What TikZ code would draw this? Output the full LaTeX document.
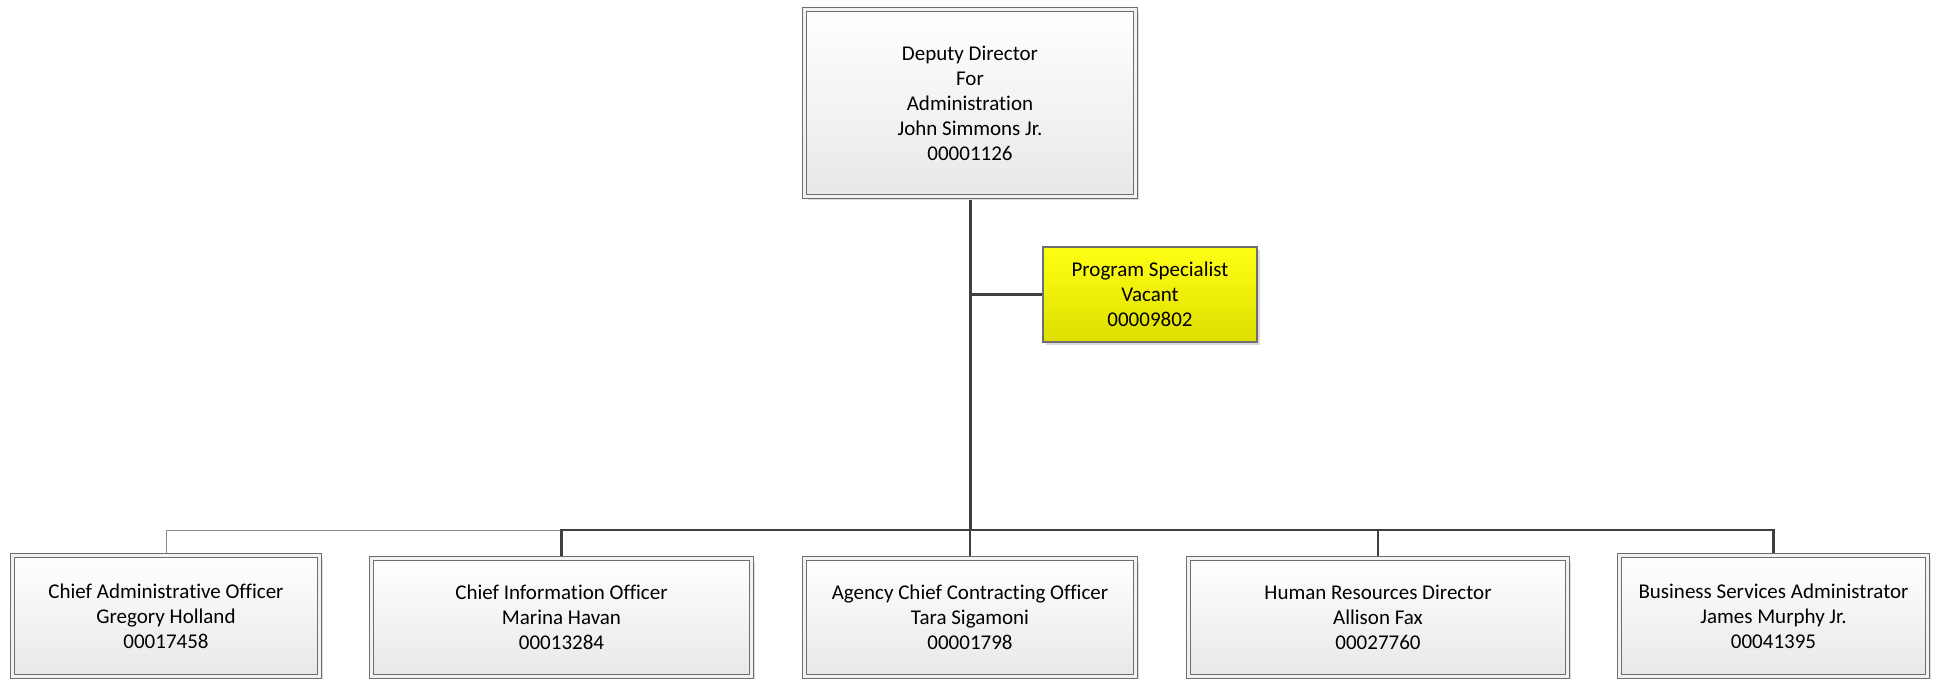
\documentclass[tikz,border=0pt]{standalone}
\usepackage{fontspec}
\setmainfont{Carlito}[Ligatures=CommonOff]
\usetikzlibrary{shadows,backgrounds}
\definecolor{edge}{HTML}{6E6E6E}
\definecolor{gapc}{HTML}{F2F2F2}
\definecolor{conn}{HTML}{404040}
\definecolor{thinc}{HTML}{8A8A8A}
\definecolor{ytop}{RGB}{255,255,20}
\definecolor{ybot}{RGB}{222,222,0}
\tikzset{
  orgbox/.style={draw=edge, line width=1.1pt, double=gapc, double distance=2.8pt,
    top color=white, bottom color=black!9, inner sep=0pt, outer sep=0pt,
    align=center, font=\fontsize{21}{25}\selectfont,
    drop shadow={shadow xshift=3pt, shadow yshift=-3pt, fill=black!14, opacity=1}},
  yelbox/.style={draw=edge, line width=1.2pt, top color=ytop, bottom color=ybot,
    inner sep=0pt, outer sep=0pt, align=center, font=\fontsize{21}{25}\selectfont,
    drop shadow={shadow xshift=3pt, shadow yshift=-3pt, fill=black!14, opacity=1}},
  mainline/.style={draw=conn, line width=3pt},
  subline/.style={draw=conn, line width=2.5pt},
  thinline/.style={draw=thinc, line width=1pt}
}
\begin{document}
\begin{tikzpicture}[x=1pt,y=-1pt]
\useasboundingbox (0,0) rectangle (1939,678);
\node[orgbox, minimum width=331pt, minimum height=187pt] (top) at (970,103)
  {Deputy Director\\For\\Administration\\John Simmons Jr.\\00001126};
\node[yelbox, minimum width=214pt, minimum height=95pt] (ps) at (1150,294.5)
  {Program Specialist\\Vacant\\00009802};
\node[orgbox, minimum width=307pt, minimum height=121pt] (b1) at (166,616)
  {Chief Administrative Officer\\Gregory Holland\\00017458};
\node[orgbox, minimum width=380pt, minimum height=118pt] (b2) at (561.5,617.5)
  {Chief Information Officer\\Marina Havan\\00013284};
\node[orgbox, minimum width=331pt, minimum height=118pt] (b3) at (970,617.5)
  {Agency Chief Contracting Officer\\Tara Sigamoni\\00001798};
\node[orgbox, minimum width=379pt, minimum height=118pt] (b4) at (1378,617.5)
  {Human Resources Director\\Allison Fax\\00027760};
\node[orgbox, minimum width=308pt, minimum height=121pt] (b5) at (1773.5,616)
  {Business Services Administrator\\James Murphy Jr.\\00041395};
\coordinate (bus) at (970,530);
\begin{scope}[on background layer]
\draw[thinline] (b2.north |- bus) -| (b1.north);
\draw[mainline] (top.south) -- (bus);
\draw[subline] (top.south |- ps.west) -- (ps.west);
\draw[subline] (bus) -| (b2.north);
\draw[subline] (bus) -- (b3.north);
\draw[subline] (bus) -| (b4.north);
\draw[subline] (bus) -| (b5.north);
\end{scope}
\end{tikzpicture}
\end{document}
